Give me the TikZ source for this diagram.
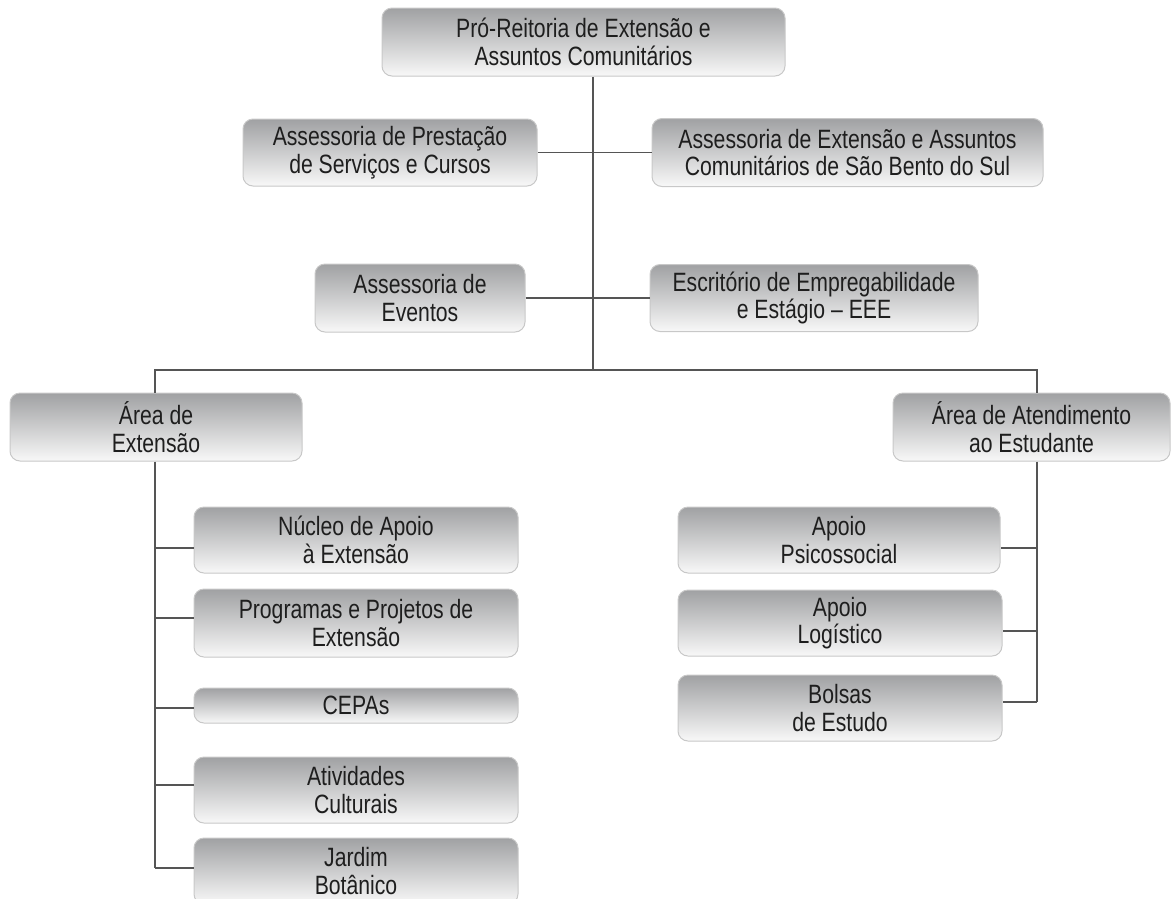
\documentclass[tikz,border=0pt]{standalone}
\usepackage{fontspec}
\setmainfont{Liberation Sans}[FakeStretch=0.8]
\usetikzlibrary{calc}
\definecolor{boxtop}{RGB}{160,161,163}
\definecolor{boxbot}{RGB}{248,248,248}
\definecolor{boxedge}{RGB}{200,200,200}
\definecolor{linecol}{RGB}{85,85,85}
\definecolor{txt}{RGB}{30,30,30}
\tikzset{
  orgbox/.style={draw=boxedge, line width=1pt, rounded corners=10pt,
    top color=boxtop, bottom color=boxbot, shading angle=0,
    minimum width=#1, inner sep=0pt, align=center, text=txt,
    font=\fontsize{26.5}{27.5}\selectfont},
  conn/.style={draw=linecol, line width=1.3pt}
}
\begin{document}
\begin{tikzpicture}[x=1pt,y=-1pt]
\useasboundingbox (0,0) rectangle (1176,898);
% boxes
\node[orgbox=403pt, minimum height=68pt] (top) at (583.5,42) {Pró-Reitoria de Extensão e\\Assuntos Comunitários};
\node[orgbox=294pt, minimum height=67pt] (pres) at (390,152.5) {Assessoria de Prestação\\de Serviços e Cursos};
\node[orgbox=391pt, minimum height=68pt] (sb) at (847.5,152.5) {Assessoria de Extensão e Assuntos\\Comunitários de São Bento do Sul};
\node[orgbox=210pt, minimum height=68pt] (ev) at (420,298) {Assessoria de\\Eventos};
\node[orgbox=328pt, minimum height=67pt] (esc) at (814,298) {Escritório de Empregabilidade\\e Estágio – EEE};
\node[orgbox=292pt, minimum height=68pt] (ae) at (156,427) {Área de\\Extensão};
\node[orgbox=277pt, minimum height=68pt] (aa) at (1031.5,427) {Área de Atendimento\\ao Estudante};
\node[orgbox=324pt, minimum height=66pt] (nuc) at (356,540) {Núcleo de Apoio\\à Extensão};
\node[orgbox=324pt, minimum height=68pt] (prog) at (356,623) {Programas e Projetos de\\Extensão};
\node[orgbox=324pt, minimum height=35pt] (cep) at (356,705.5) {CEPAs};
\node[orgbox=324pt, minimum height=66pt] (ativ) at (356,790) {Atividades\\Culturais};
\node[orgbox=324pt, minimum height=66pt] (jard) at (356,871) {Jardim\\Botânico};
\node[orgbox=322pt, minimum height=66pt] (psi) at (839,540) {Apoio\\Psicossocial};
\node[orgbox=324pt, minimum height=66pt] (log) at (840,623) {Apoio\\Logístico};
\node[orgbox=324pt, minimum height=66pt] (bol) at (840,708) {Bolsas\\de Estudo};
% junction coordinates
\coordinate (j) at (593,370);
\coordinate (lb) at (155,370);
\coordinate (rb) at (1037,370);
\coordinate (l1) at (155,548);
\coordinate (l2) at (155,618);
\coordinate (l3) at (155,708);
\coordinate (l4) at (155,785);
\coordinate (l5) at (155,868);
\coordinate (r1) at (1037,548);
\coordinate (r2) at (1037,631);
\coordinate (r3) at (1037,702);
% connectors
\draw[conn] (top.south -| j) -- (j);
\draw[conn] (pres.east) -- (sb.west);
\draw[conn] (ev.east) -- (esc.west);
\draw[conn] (ae.north -| lb) -- (lb) -- (rb) -- (aa.north -| rb);
\draw[conn] (ae.south -| lb) -- (l5);
\draw[conn] (aa.south -| rb) -- (r3);
\draw[conn] (l1) -- (l1 -| nuc.west);
\draw[conn] (l2) -- (l2 -| prog.west);
\draw[conn] (l3) -- (l3 -| cep.west);
\draw[conn] (l4) -- (l4 -| ativ.west);
\draw[conn] (l5) -- (l5 -| jard.west);
\draw[conn] (r1) -- (r1 -| psi.east);
\draw[conn] (r2) -- (r2 -| log.east);
\draw[conn] (r3) -- (r3 -| bol.east);
\end{tikzpicture}
\end{document}
